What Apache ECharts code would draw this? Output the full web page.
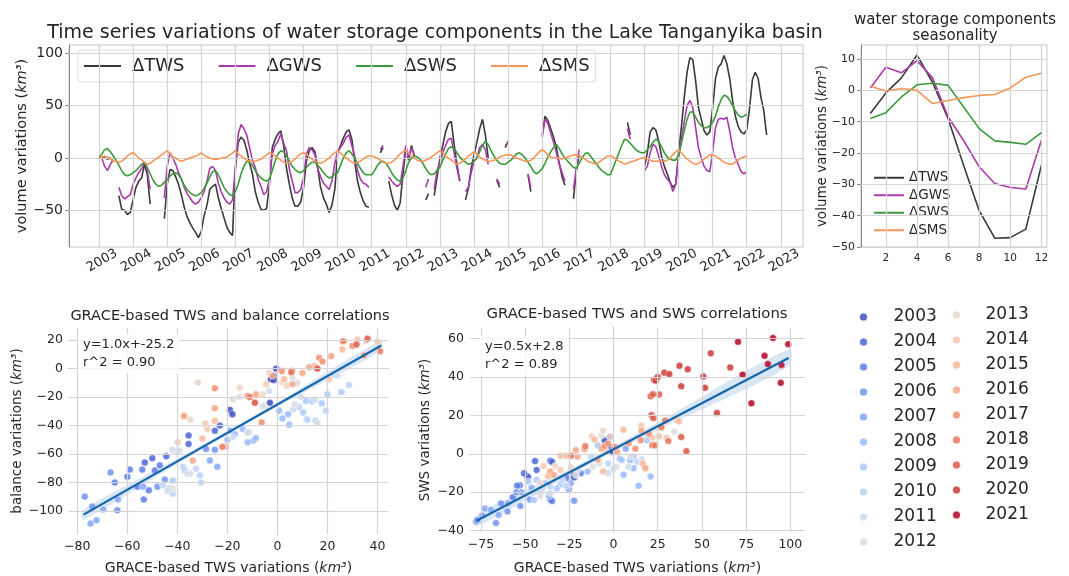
<!DOCTYPE html>
<html>
<head>
<meta charset="utf-8">
<title>Lake Tanganyika water storage</title>
<script src="https://cdn.jsdelivr.net/npm/echarts@6.0.0/dist/echarts.min.js"></script>
<style>
html,body{margin:0;padding:0;background:#fff;}
#main{width:1069px;height:576px;}
</style>
</head>
<body>
<div id="main"></div>
<script>
// monthly values, one row per year (Jan..Dec), null = missing month
var tsYears = [2003,2004,2005,2006,2007,2008,2009,2010,2011,2012,2013,2014,2015,2016,2017,2018,2019,2020,2021,2022];
var twsRows = [
	[null,0,0,-1,0,-3,null,-36,-49,-50,-54,-52],
	[-40,-28,-22,-19,-6,-16,-44,null,null,null,null,-58],
	[-25,-11,-12,-18,-25,-35,-47,-56,-62,-67,-71,-76],
	[-70,-55,-45,-30,-27,-25,-38,-48,-57,-66,-71,-74],
	[-10,15,20,17,8,-5,-15,-32,-42,-49,-50,-48],
	[-25,10,18,23,26,12,-10,-25,-38,-46,-46,-42],
	[-28,-3,7,10,6,-10,-28,-38,-44,-52,-45,-30],
	[5,12,19,25,27,18,-3,-22,-33,-41,-46,-47],
	[null,null,null,5,10,null,-22,-35,-45,-50,-43,-15],
	[8,-2,12,2,null,null,null,-40,-34,null,-36,-18],
	[0,12,25,33,35,13,-6,-22,null,-40,-29,-10],
	[3,15,28,37,22,0,null,null,-21,-28,null,10],
	[16,null,null,null,null,null,null,-16,-32,null,null,null],
	[22,40,36,28,20,10,-5,-18,-26,null,null,-39],
	[-13,3,null,null,null,null,null,null,null,null,null,null],
	[null,null,null,null,null,null,34,22,null,null,null,null],
	[-8,5,25,29,27,16,2,-8,-15,-23,-28,-25],
	[5,30,58,82,96,94,74,48,37,26,22,25],
	[48,76,87,90,98,90,76,55,40,30,25,23],
	[27,48,75,82,76,58,45,22]
];
var gwsRows = [
	[null,0,-8,-12,-6,-2,null,-28,-36,-39,-37,-35],
	[-25,-19,-14,-10,-4,-12,-30,null,null,null,null,-38],
	[-8,5,0,-6,-14,-20,-28,-34,-38,-42,-44,-42],
	[-38,-32,-22,-10,-8,-12,-24,-32,-38,-42,-44,-40],
	[-10,23,32,28,22,10,-2,-9,-20,-27,-35,-32],
	[-20,4,12,16,23,14,7,-10,-22,-33,-33,-30],
	[-19,4,10,8,3,-10,-18,-24,-27,-30,-22,-5],
	[7,10,14,20,22,12,2,-12,-20,-24,-25,-28],
	[null,null,null,8,12,null,-18,-22,-25,-27,-25,-8],
	[12,0,10,2,null,null,null,-28,-20,null,-30,-12],
	[-5,5,12,18,19,5,-10,-22,null,-32,-28,-14],
	[-3,0,10,13,8,-6,null,null,-20,-25,null,12],
	[15,null,null,null,null,null,null,-15,-28,null,null,null],
	[20,37,33,24,15,5,-6,-14,-22,null,null,-30],
	[-10,8,null,null,null,null,null,null,null,null,null,null],
	[null,null,null,null,null,null,28,18,null,null,null,null],
	[-12,-8,5,13,11,2,-8,-16,-20,-23,-32,-25],
	[0,18,35,50,55,48,29,10,0,-8,-12,-13],
	[6,29,37,38,37,39,26,10,0,-6,-13,-15],
	[-13]
];
var swsRows = [
	[0,4,8,9,6,2,-2,-7,-12,-16,-17,-16],
	[-14,-12,-9,-6,-4,-9,-15,-21,-25,-27,-26,-23],
	[-21,-17,-15,-14,-16,-20,-26,-30,-33,-35,-36,-35],
	[-33,-29,-24,-18,-13,-12,-16,-22,-28,-32,-35,-36],
	[-32,-25,-15,-8,-3,-4,-7,-12,-16,-19,-21,-22],
	[-20,-12,-3,4,7,6,2,-3,-8,-11,-13,-14],
	[-12,-9,-6,-4,-4,-7,-10,-14,-17,-19,-18,-15],
	[-14,-7,0,5,7,4,0,-5,-10,-14,-16,-16],
	[-16,-12,-7,-4,-3,-5,-9,-14,-18,-21,-22,-19],
	[-12,-4,0,2,1,-1,-5,-10,-14,-16,-15,-12],
	[-9,-2,4,9,11,9,5,1,-2,-4,-6,-5],
	[-3,0,6,12,16,13,7,2,-2,-5,-6,-6],
	[-4,-2,1,4,5,3,0,-4,-8,-13,-15,-13],
	[-10,-5,1,6,10,13,9,4,0,-3,-6,-9],
	[-10,-5,0,4,5,2,-2,-5,-9,-12,-14,-16],
	[-16,-9,-2,5,12,18,17,14,11,8,6,5],
	[5,8,11,15,18,16,11,5,1,-1,-2,-2],
	[3,14,26,37,44,44,39,34,31,29,29,31],
	[34,40,49,56,60,59,55,50,45,41,39,40],
	[42]
];
var smsRows = [
	[0,1,2,1,-1,-3,-3,-4,-3,-1,2,4],
	[5,3,0,-2,-4,-6,-5,-3,-1,1,3,5],
	[7,4,1,0,-2,-3,-2,-1,0,1,2,3],
	[5,3,1,0,-1,-1,-1,0,0,1,3,5],
	[7,4,2,0,-2,-3,-3,-3,-2,-1,1,3],
	[5,4,2,0,-2,-4,-5,-4,-3,-1,2,4],
	[5,4,1,-1,-3,-4,-5,-4,-2,0,3,5],
	[7,5,2,0,-2,-4,-5,-4,-3,-1,1,2],
	[2,1,0,-2,-4,-5,-5,-4,-2,1,4,6],
	[7,5,2,0,-2,-3,-3,-2,-1,1,3,5],
	[7,5,2,0,-2,-4,-6,-5,-3,-1,2,4],
	[6,4,1,-1,-2,-3,-3,-2,-1,1,2,3],
	[3,3,1,0,-1,-2,-3,-3,-2,0,3,6],
	[8,6,3,1,0,0,0,-1,0,1,2,3],
	[3,2,1,-1,-3,-4,-5,-6,-4,-2,0,2],
	[2,1,-1,-3,-4,-6,-5,-4,-3,-2,-1,0],
	[0,-1,-2,-3,-3,-3,-3,-3,-2,0,3,6],
	[8,5,2,-1,-3,-5,-6,-5,-3,-1,1,3],
	[3,2,0,-2,-4,-5,-6,-6,-4,-2,0,1],
	[2]
];
var yearTicks = [2003,2004,2005,2006,2007,2008,2009,2010,2011,2012,2013,2014,2015,2016,2017,2018,2019,2020,2021,2022,2023];
var tsValueTicks = [-50,0,50,100];

// mean seasonal cycle
var seasMonths = [1,2,3,4,5,6,7,8,9,10,11,12];
var seasTWS = [-7.4,-0.8,4,11.3,2.6,-9,-24,-38.4,-47.2,-47,-44.3,-23.9];
var seasGWS = [0.8,7.4,5.6,9.5,4,-8.5,-16,-24.4,-29.7,-31,-31.5,-15.9];
var seasSWS = [-9,-7.1,-2.1,1.8,2.3,1.6,-5.3,-12.2,-16.1,-16.6,-17.2,-13.5];
var seasSMS = [1.3,-0.2,0.6,0,-4.2,-3.2,-2.3,-1.6,-1.3,0.8,4.2,5.5];
var seasMonthTicks = [2,4,6,8,10,12];
var seasValueTicks = [-50,-40,-30,-20,-10,0,10];

// scatter points per year: [GRACE TWS, balance] and [GRACE TWS, SWS]
var scatterYears = ['2003','2004','2005','2006','2007','2008','2009','2010','2011','2012','2013','2014','2015','2016','2017','2018','2019','2020','2021'];
var yearColors = ['#3b4cc0','#4b65d5','#5d7ce6','#7092f3','#83a6fb','#97b8ff','#aac7fe','#bcd2f7','#ced9ec','#dddddd','#ead4c8','#f3c8b1','#f7b89c','#f7a586','#f18e70','#e7755c','#da5948','#c93936','#b40426'];
var balancePts = [
	[[-0.5,0],[-2,-6],[-1.5,-5],[-2.6,-7.5],[-3,-24],[-19,-29],[-18,-32],[-1.5,-8]],
	[[-23,-40],[-25,-43.6],[-35.5,-47],[-35.5,-53],[-44.4,-61.6],[-50,-63],[-53,-66]],
	[[-59,-71],[-54,-71],[-49,-71.6],[-53.4,-92],[-47,-68],[-51.4,-85.6],[-65,-80],[-56,-83],[-60,-76]],
	[[-77,-90],[-74,-97],[-64,-99.6],[-66.7,-73],[-48,-83],[-45,-78],[-25,-57],[-28.5,-56.5]],
	[[-74.7,-109],[-72.3,-106.6],[-69.6,-99],[-63.7,-92],[-53.7,-83],[-27,-64.6],[-24,-69],[-19,-43.6]],
	[[-17,-46],[-9.6,-50.6],[-8.6,-48.8],[-11.9,-51.8],[-11.5,-44.8],[-13.9,-42.5],[4.3,-32],[0.7,-29.6],[4.7,-39.4],[-20,-50],[2,-35]],
	[[11.4,-22.7],[11.7,-35.5],[13.8,-23],[17.7,-24.3],[20,-18],[25.6,-16.4],[15.3,-36.6],[10.3,-30.8],[-37,-71.6],[-41.8,-78.6]],
	[[-32.5,-70.4],[-31,-75],[-30.5,-80],[-35,-74],[-45.7,-82],[-41.8,-88],[-43.3,-84],[22.3,-4.5],[28.6,-11.5],[19.3,-29.6],[8.7,-27],[-37.8,-69],[-40,-58],[12,-36]],
	[[-17.8,-48.3],[-4.6,-28.5],[-3.3,-15.7],[24,-5],[6.3,-28.5],[9.4,-19.6],[-42,-57],[-44,-86],[15,-22],[-6,-27]],
	[[-17.8,-21.5],[-15,-20],[6,-6.3],[8,-10],[-41.8,-84.4],[-39,-57.6],[-5.5,-26],[7,-25],[-36,-74],[-12,-45],[16,-38]],
	[[-31.8,-9.8],[-34.8,-36],[-15,-13.3],[-5.9,-18],[-3.3,-2.8],[2,-9.8],[3.7,-12],[35.3,19.3]],
	[[-37,-33],[-39.8,-51.8],[-28,-42.5],[-4.6,-11],[20.7,-7.5],[32,20.5],[40,18.8],[-28.8,-38.5]],
	[[-25,-36.6],[-30,-49.2],[-9,-23.4],[2.7,-7.5],[-20.5,-54.8],[14.7,1.8],[26,13.5]],
	[[-37.4,-33.4],[-33.8,-64.6],[-25,-27.8],[-8.6,-18],[6,-11],[12.7,1],[21.5,8.8],[-2,-5],[10,-3]],
	[[-25,-13.8],[-11.9,-19.2],[-6.3,-37.8],[1.8,-1.7],[15.6,0.7],[16.7,7.6],[34.6,9.3],[18,5],[30,16]],
	[[-11,-20],[5.8,-1.7],[5.5,-2.5],[-22,-55],[26.3,19.3],[41,12.3]],
	[[31.6,17],[36,21],[16,0],[-9,-24]]
];
var swsPts = [
	[[-5,7],[-2.1,8.7],[-1.2,3.2],[0,2],[-1,1],[-22.3,-11],[-22.3,-12.3]],
	[[-49,-11.5],[-48.3,-12.1],[-50.6,-10.1],[-35.8,-3.6],[-34.8,-4.1],[-44.4,-3.8],[-43.5,-8.4]],
	[[-53,-16.4],[-54.6,-16.6],[-57,-22.6],[-35.8,-23.8],[-34.8,-24.6],[-26.2,-12.6],[-18.5,-10.1]],
	[[-77.7,-35.2],[-77,-34.4],[-74.2,-32.3],[-66.5,-36],[-63.7,-25.8],[-52.7,-27.2],[-47.3,-23.8],[-22.3,-24.4],[-60,-30],[-55,-20]],
	[[-72.7,-28.5],[-69.4,-29.2],[-65,-31.8],[-59.8,-25.8],[-52.1,-20],[-46.3,-17.8],[-25.2,-18.6],[-24.2,-15.2],[3.7,-2.7],[6.9,2.7]],
	[[-41.5,-19.8],[-36.5,-22],[-14.6,-9.2],[14.2,-16.6],[21,-11.8],[5.6,-10.9],[11.3,-7.5],[9.4,-3.2]],
	[[-48.3,-14.4],[-43.5,-13.5],[-38.7,-15.2],[-30,-16],[4.6,-3.2],[11.3,-1.5],[19,7],[-8.8,4.4],[-45,-24],[-32,-18]],
	[[-45.4,-20.3],[-35.8,-17],[-27.1,-16.6],[-29,-13.5],[13.3,-4.1],[-12.7,-1.5],[-3,-5]],
	[[-35.8,-20.3],[8.5,-6.7],[-44,-19.8],[-40,-18],[-20,-8],[16,-3],[-3,-10],[0,-8]],
	[[-6.9,9.6],[34.4,11.6],[1.7,-6.7],[-21.3,-11],[-11.7,-6.7],[-41.5,-22],[9.4,-1.4],[-8,-5]],
	[[-6,12.1],[-12.3,9.2],[-24.2,-7],[-32.9,-6.3],[-41.5,-15.2],[35.4,17.6],[-2,9]],
	[[22,8.4],[25.8,9.1],[30,8.4],[-30,-8.4],[-39.6,-6.3],[15.6,14.7],[-4,1]],
	[[5.6,12.5],[-10.8,7.5],[-27,-1],[-30,-1],[-6,-9.2],[-37,-11.5],[16.5,-5],[37,17]],
	[[-16.5,2.4],[-20.4,-1.5],[-21.3,1.9],[-6.9,2.7],[18,-7.5],[-35.8,-9.2],[-33.8,-11],[15.8,12.1],[-9,-3],[2,1]],
	[[-5,4.1],[-3,5.3],[0.8,3.6],[8.5,5.6],[12.3,2.7],[15.4,7],[20,10.4]],
	[[22,4.4],[23.5,4.4],[27,13.8],[29.2,17.3],[31,6.7],[-16,4],[-24,-1]],
	[[21.5,20.2],[22.5,18.6],[38.3,8.7],[41.2,1.4],[25.8,30.9],[21,30],[22.3,31]],
	[[55,52.3],[50.8,40.3],[51.7,34.4],[58.5,21.2],[37.3,45.8],[38.3,35.2],[28.7,42.2],[31.5,41.5],[22.9,38.6],[23.8,38.1],[66,45],[42,44],[25,40]],
	[[90.2,60.3],[98.8,57.1],[70.4,58.3],[85.4,51],[87.3,46.7],[95,46.3],[73,41.2],[78,26.3],[94.6,37]]
];
// regression fits [slope, intercept], x extent and confidence band half width
var balanceFit = [1.0, -25.2];
var balanceFitX = [-77.5, 41.5];
var balanceBandX = [-77.5, -35, 0, 41.5];
var balanceBandHalf = [3.5, 1.5, 1.5, 3.5];
var swsFit = [0.48, 2.4];
var swsFitX = [-77.5, 99];
var swsBandX = [-77.5, -20, 25, 99];
var swsBandHalf = [3, 1.5, 2, 4.5];
var balanceTicksX = [-80,-60,-40,-20,0,20,40];
var balanceTicksY = [-100,-80,-60,-40,-20,0,20];
var swsTicksX = [-75,-50,-25,0,25,50,75,100];
var swsTicksY = [-40,-20,0,20,40,60];

var FONT = 'DejaVu Sans';
var TXT = '#262626';

function toPairs(rows) {
	var out = [];
	for (var i = 0; i < rows.length; i++) {
		for (var m = 0; m < rows[i].length; m++) {
			out.push([tsYears[i] + m / 12, rows[i][m]]);
		}
	}
	return out;
}
function zipMonths(vals) {
	var out = [];
	for (var i = 0; i < vals.length; i++) out.push([seasMonths[i], vals[i]]);
	return out;
}
function minus(v) {
	return String(v).replace('-', '\u2212');
}
function kmName(label, size) {
	return {
		text: '{a|' + label + ' (}{b|km³}{a|)}',
		style: {rich: {a: {fontSize: size, color: TXT, fontFamily: FONT}, b: {fontSize: size, color: TXT, fontFamily: FONT, fontStyle: 'italic'}}}
	};
}
function makeAxis(grid, min, max, ticks, o) {
	var ax = {
		type: 'value', gridIndex: grid, min: min, max: max,
		axisLine: {show: true, lineStyle: {color: o.lineColor || '#555'}},
		axisTick: {show: true, customValues: ticks, length: 4, lineStyle: {color: o.lineColor || '#555'}},
		axisLabel: {customValues: ticks, fontSize: o.fontSize || 12, color: TXT, fontFamily: FONT, margin: 6, formatter: minus},
		splitLine: {show: false}
	};
	if (o.name) {
		var n = kmName(o.name, o.nameSize || 13.5);
		ax.name = n.text;
		ax.nameLocation = 'middle';
		ax.nameGap = o.nameGap;
		ax.nameMoveOverlap = false;
		ax.nameTextStyle = n.style;
		if (o.rotate) ax.nameRotate = 90;
	}
	return ax;
}
// grid lines drawn at the tick values through the axes
function gridLines(idx, xs, ys) {
	var d = [];
	for (var i = 0; i < xs.length; i++) d.push({xAxis: xs[i]});
	for (var j = 0; j < ys.length; j++) d.push({yAxis: ys[j]});
	return {
		type: 'line', xAxisIndex: idx, yAxisIndex: idx, data: [], silent: true, z: 1,
		markLine: {silent: true, symbol: 'none', animation: false, label: {show: false}, emphasis: {disabled: true},
			lineStyle: {color: '#d4d4d4', width: 1.2, type: 'solid'}, data: d}
	};
}
function fitLine(fit, xs) {
	return xs.map(function (x) { return [x, fit[0] * x + fit[1]]; });
}
function bandSeries(idx, fit, bx, bh) {
	return {
		type: 'custom', xAxisIndex: idx, yAxisIndex: idx, data: [0], silent: true, z: 2,
		renderItem: function (params, api) {
			var pts = [];
			for (var i = 0; i < bx.length; i++) pts.push(api.coord([bx[i], fit[0] * bx[i] + fit[1] + bh[i]]));
			for (var j = bx.length - 1; j >= 0; j--) pts.push(api.coord([bx[j], fit[0] * bx[j] + fit[1] - bh[j]]));
			return {type: 'polygon', shape: {points: pts, smooth: 0.3}, style: {fill: 'rgba(120,168,220,0.28)'}};
		}
	};
}

var dom = document.getElementById('main');
var myChart = echarts.init(dom, null, {renderer: 'canvas'});

var lineNames = ['ΔTWS', 'ΔGWS', 'ΔSWS', 'ΔSMS'];
var lineColors = ['#3a3a3a', '#a93aa9', '#3a9b3a', '#f4975a'];
var tsData = [toPairs(twsRows), toPairs(gwsRows), toPairs(swsRows), toPairs(smsRows)];
var seasData = [zipMonths(seasTWS), zipMonths(seasGWS), zipMonths(seasSWS), zipMonths(seasSMS)];

var seas = [];
seas.push(gridLines(0, yearTicks, tsValueTicks));
seas.push(gridLines(1, seasMonthTicks, seasValueTicks));
seas.push(gridLines(2, balanceTicksX, balanceTicksY));
seas.push(gridLines(3, swsTicksX, swsTicksY));
for (var k = 0; k < lineNames.length; k++) {
	seas.push({
		name: lineNames[k], type: 'line', xAxisIndex: 0, yAxisIndex: 0, data: tsData[k],
		symbol: 'none', connectNulls: false, color: lineColors[k],
		lineStyle: {width: 1.6, color: lineColors[k]}, z: 3 + k
	});
	seas.push({
		name: lineNames[k], type: 'line', xAxisIndex: 1, yAxisIndex: 1, data: seasData[k],
		symbol: 'none', color: lineColors[k], lineStyle: {width: 1.6, color: lineColors[k]}, z: 3 + k
	});
}
for (var y = 0; y < scatterYears.length; y++) {
	var st = {color: yearColors[y], opacity: 0.85, borderColor: '#fff', borderWidth: 0.6};
	if (balancePts[y]) {
		seas.push({name: scatterYears[y], type: 'scatter', xAxisIndex: 2, yAxisIndex: 2, data: balancePts[y], symbolSize: 7, itemStyle: st, color: yearColors[y], z: 3});
	}
	seas.push({name: scatterYears[y], type: 'scatter', xAxisIndex: 3, yAxisIndex: 3, data: swsPts[y], symbolSize: 7, itemStyle: st, color: yearColors[y], z: 3});
}
seas.push(bandSeries(2, balanceFit, balanceBandX, balanceBandHalf));
seas.push(bandSeries(3, swsFit, swsBandX, swsBandHalf));
seas.push({type: 'line', xAxisIndex: 2, yAxisIndex: 2, data: fitLine(balanceFit, balanceFitX), symbol: 'none', silent: true, lineStyle: {color: '#1566ab', width: 2.2}, z: 5});
seas.push({type: 'line', xAxisIndex: 3, yAxisIndex: 3, data: fitLine(swsFit, swsFitX), symbol: 'none', silent: true, lineStyle: {color: '#1566ab', width: 2.2}, z: 5});

var xTs = makeAxis(0, 2002.12, 2023.65, yearTicks, {fontSize: 13, lineColor: '#888'});
xTs.axisLabel.rotate = 30;
xTs.axisLabel.align = 'center';
xTs.axisLabel.verticalAlign = 'top';
xTs.axisLabel.margin = 8;
var yTs = makeAxis(0, -85, 108, tsValueTicks, {fontSize: 14, lineColor: '#888', name: 'volume variations', nameSize: 14.5, nameGap: 39, rotate: true});
var xSe = makeAxis(1, 0.4, 12.36, seasMonthTicks, {fontSize: 10.5, lineColor: '#888'});
var ySe = makeAxis(1, -50, 14.5, seasValueTicks, {fontSize: 11, lineColor: '#888', name: 'volume variations', nameGap: 32, rotate: true});
var xBa = makeAxis(2, -83.3, 44.2, balanceTicksX, {fontSize: 12.5, name: 'GRACE-based TWS variations', nameSize: 14, nameGap: 27});
var yBa = makeAxis(2, -116.3, 28.6, balanceTicksY, {fontSize: 12.5, name: 'balance variations', nameGap: 45, rotate: true});
var xSw = makeAxis(3, -81.2, 108.3, swsTicksX, {fontSize: 12.5, name: 'GRACE-based TWS variations', nameSize: 14, nameGap: 29});
var ySw = makeAxis(3, -40.7, 65.5, swsTicksY, {fontSize: 12.5, name: 'SWS variations', nameGap: 38, rotate: true});

var titleStyle = function (size) {
	return {fontSize: size, fontWeight: 'normal', color: TXT, fontFamily: FONT};
};

var option = {
	animation: false,
	backgroundColor: '#fff',
	textStyle: {fontFamily: FONT},
	title: [
		{text: 'Time series variations of water storage components in the Lake Tanganyika basin', left: 435, top: 24, textAlign: 'center', padding: 0, textStyle: titleStyle(19)},
		{text: 'water storage components\nseasonality', left: 955, top: 12, textAlign: 'center', padding: 0, textStyle: {fontSize: 15, lineHeight: 16, fontWeight: 'normal', color: TXT, fontFamily: FONT}},
		{text: 'GRACE-based TWS and balance correlations', left: 230, top: 309, textAlign: 'center', padding: 0, textStyle: titleStyle(14.5)},
		{text: 'GRACE-based TWS and SWS correlations', left: 637, top: 307, textAlign: 'center', padding: 0, textStyle: titleStyle(14.8)},
		{text: 'y=1.0x+-25.2\nr^2 = 0.90', left: 78, top: 334, padding: [2, 5], backgroundColor: 'rgba(255,255,255,0.8)', textStyle: {fontSize: 13, lineHeight: 18, fontWeight: 'normal', color: TXT, fontFamily: FONT}},
		{text: 'y=0.5x+2.8\nr^2 = 0.89', left: 480, top: 336, padding: [2, 5], backgroundColor: 'rgba(255,255,255,0.8)', textStyle: {fontSize: 13, lineHeight: 18, fontWeight: 'normal', color: TXT, fontFamily: FONT}}
	],
	legend: [
		{data: lineNames, left: 78, top: 50, orient: 'horizontal', icon: 'rect', itemWidth: 37, itemHeight: 2, itemGap: 34,
			padding: [7, 6], backgroundColor: 'rgba(255,255,255,0.85)', borderColor: '#dcdcdc', borderWidth: 1, borderRadius: 3,
			textStyle: {fontSize: 18, color: TXT, fontFamily: FONT, padding: [0, 0, 0, 6]}},
		{data: lineNames, left: 869, top: 165, orient: 'vertical', icon: 'rect', itemWidth: 30, itemHeight: 2, itemGap: 2,
			textStyle: {fontSize: 13.5, lineHeight: 15.5, color: TXT, fontFamily: FONT}},
		{data: scatterYears.slice(0, 10), left: 853, top: 302, orient: 'vertical', icon: 'circle', itemWidth: 40, itemHeight: 9, itemGap: 5,
			textStyle: {fontSize: 17, lineHeight: 20, color: TXT, fontFamily: FONT, padding: [0, 0, 0, 5]}},
		{data: scatterYears.slice(10), left: 946, top: 300, orient: 'vertical', icon: 'circle', itemWidth: 40, itemHeight: 9, itemGap: 5,
			textStyle: {fontSize: 17, lineHeight: 20, color: TXT, fontFamily: FONT, padding: [0, 0, 0, 4]}}
	],
	grid: [
		{left: 69, top: 45, width: 734, height: 202, show: true, borderColor: '#c8c8c8', borderWidth: 1, backgroundColor: '#fff'},
		{left: 861, top: 45, width: 186, height: 202, show: true, borderColor: '#c8c8c8', borderWidth: 1, backgroundColor: '#fff'},
		{left: 69, top: 328, width: 319, height: 208},
		{left: 470, top: 328, width: 335, height: 206}
	],
	xAxis: [xTs, xSe, xBa, xSw],
	yAxis: [yTs, ySe, yBa, ySw],
	series: seas
};
if (option && typeof option === 'object') {
	myChart.setOption(option, true);
}
</script>
</body>
</html>
